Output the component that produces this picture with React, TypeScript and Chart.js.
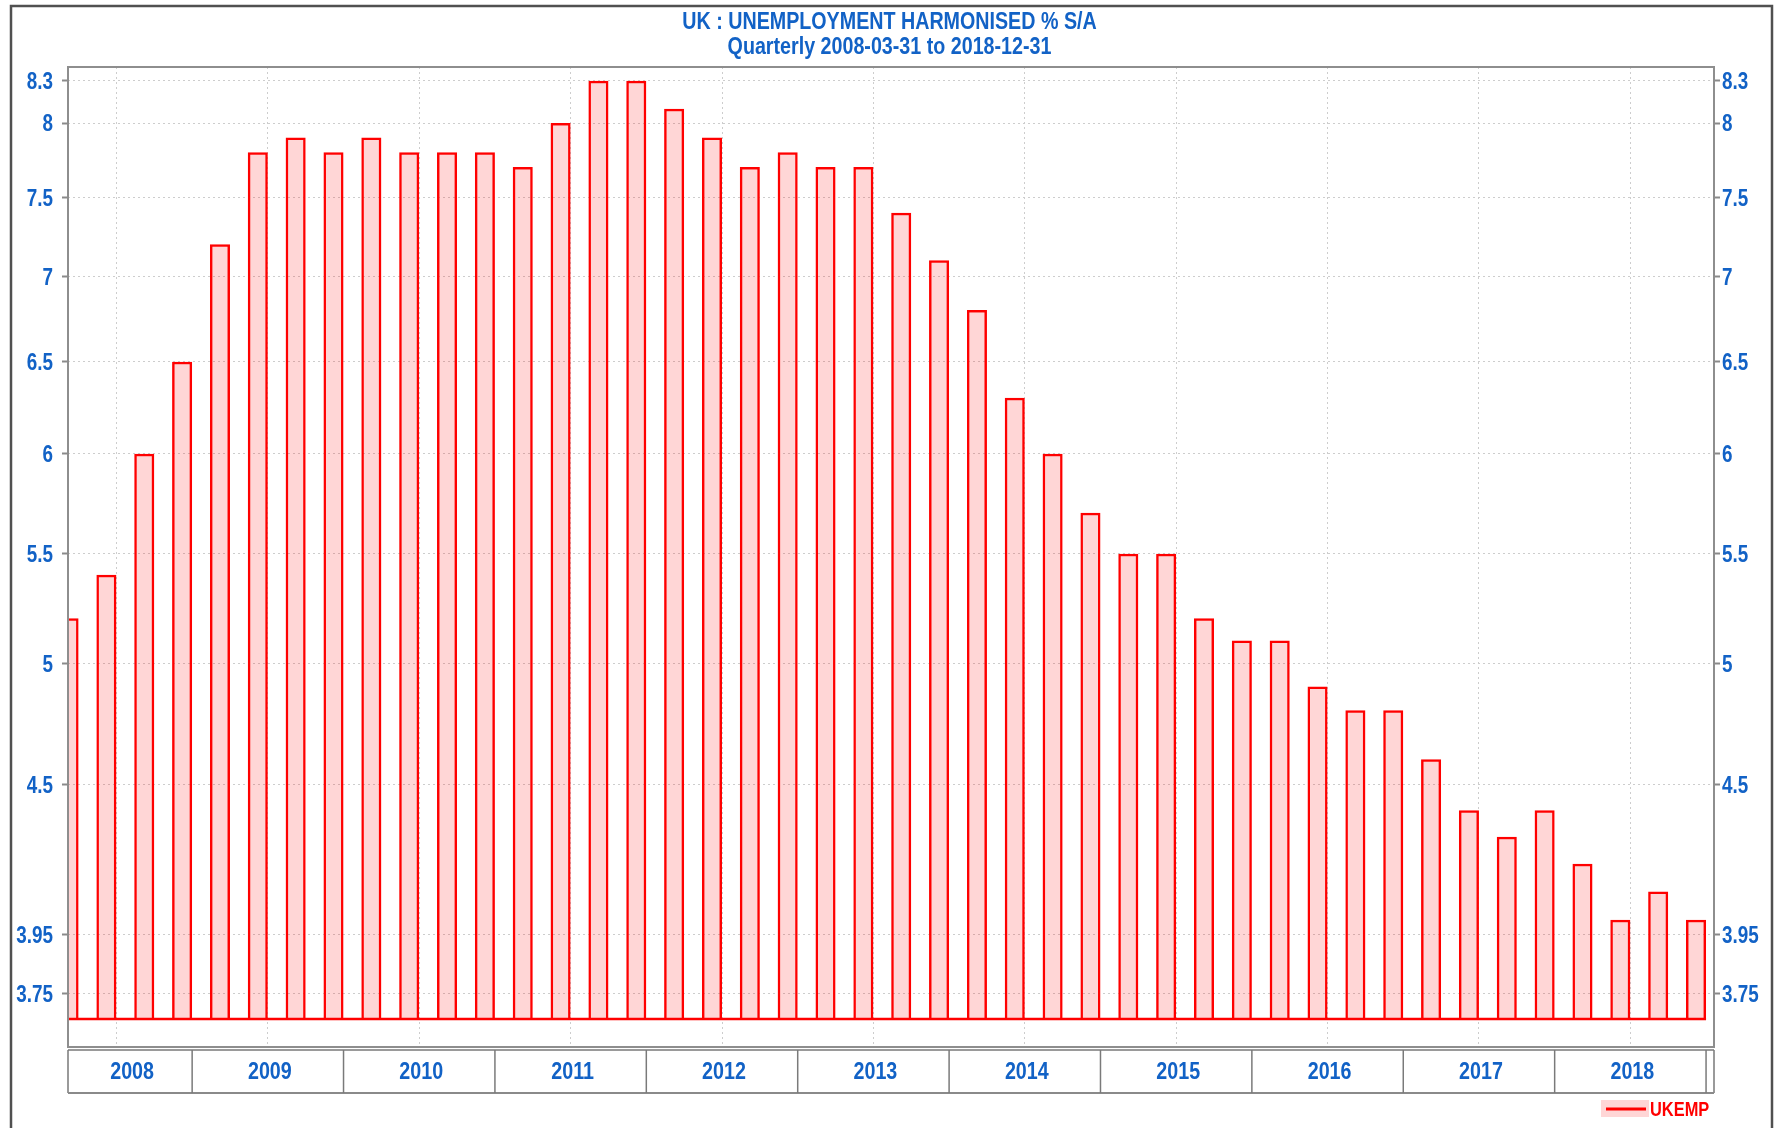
import React, { useEffect, useRef } from "react";
import { Chart, registerables } from "chart.js";

Chart.register(...registerables);

// ---------- data ----------
const QUARTERS = [
  "2008Q1", "2008Q2", "2008Q3", "2008Q4",
  "2009Q1", "2009Q2", "2009Q3", "2009Q4",
  "2010Q1", "2010Q2", "2010Q3", "2010Q4",
  "2011Q1", "2011Q2", "2011Q3", "2011Q4",
  "2012Q1", "2012Q2", "2012Q3", "2012Q4",
  "2013Q1", "2013Q2", "2013Q3", "2013Q4",
  "2014Q1", "2014Q2", "2014Q3", "2014Q4",
  "2015Q1", "2015Q2", "2015Q3", "2015Q4",
  "2016Q1", "2016Q2", "2016Q3", "2016Q4",
  "2017Q1", "2017Q2", "2017Q3", "2017Q4",
  "2018Q1", "2018Q2", "2018Q3", "2018Q4",
];

const UKEMP = [
  5.2, 5.4, 6.0, 6.5,
  7.2, 7.8, 7.9, 7.8,
  7.9, 7.8, 7.8, 7.8,
  7.7, 8.0, 8.3, 8.3,
  8.1, 7.9, 7.7, 7.8,
  7.7, 7.7, 7.4, 7.1,
  6.8, 6.3, 6.0, 5.7,
  5.5, 5.5, 5.2, 5.1,
  5.1, 4.9, 4.8, 4.8,
  4.6, 4.4, 4.3, 4.4,
  4.2, 4.0, 4.1, 4.0,
];

const YEARS = ["2008", "2009", "2010", "2011", "2012", "2013", "2014", "2015", "2016", "2017", "2018"];

const Y_TICKS = [3.75, 3.95, 4.5, 5, 5.5, 6, 6.5, 7, 7.5, 8, 8.3];

const TITLE_LINES = ["UK : UNEMPLOYMENT HARMONISED % S/A", "Quarterly 2008-03-31 to 2018-12-31"];
const SERIES_NAME = "UKEMP";

// ---------- style / layout constants ----------
const W = 1781;
const H = 1128;
const BLUE = "#1262C6";
const RED = "#FF0000";
const PINK_FILL = "rgba(255,0,0,0.16)";
const GRID = "#cdcdcd";
const FRAME = "#8e8e8e";
const FONT = '"Liberation Sans", Arial, sans-serif';
const NARROW = 0.82; // horizontal condensing to mimic a narrow face
const Y_MIN = 3.581;
const Y_MAX = 8.4;
const BAR_BASE = 3.669;
const X_MIN = 0.72;
const X_MAX = 44.21;
const BAR_FRACTION = 0.53;
const Q_PER_YEAR = 4;

function narrowText(
  ctx: CanvasRenderingContext2D,
  text: string,
  x: number,
  y: number,
  font: string,
  color: string,
  align: CanvasTextAlign
) {
  ctx.save();
  ctx.font = font;
  ctx.fillStyle = color;
  ctx.textAlign = align;
  ctx.textBaseline = "middle";
  ctx.translate(x, y);
  ctx.scale(NARROW, 1);
  ctx.fillText(text, 0, 0);
  ctx.restore();
}

function condenseLabels(scale: any) {
  if (!scale || scale.__condensed) return;
  scale.__condensed = true;
  const orig = scale.drawLabels;
  scale.drawLabels = function (area: any) {
    const items = this.getLabelItems(area);
    if (!items || !items.length) return orig.call(this, area);
    const ax = items[0].options.translation[0];
    const ctx = this.ctx;
    ctx.save();
    ctx.translate(ax, 0);
    ctx.scale(NARROW, 1);
    ctx.translate(-ax, 0);
    orig.call(this, area);
    ctx.restore();
  };
}

const framePlugin = {
  id: "framePlugin",
  beforeDraw(chart: any) {
    condenseLabels(chart.scales.y);
    condenseLabels(chart.scales.y2);
    const ctx = chart.ctx;
    ctx.save();
    ctx.fillStyle = "#ffffff";
    ctx.fillRect(0, 0, W, H);
    // outer border
    ctx.strokeStyle = "#505050";
    ctx.lineWidth = 2.5;
    ctx.beginPath();
    ctx.moveTo(11, H + 5);
    ctx.lineTo(11, 6);
    ctx.lineTo(1772, 6);
    ctx.lineTo(1772, H + 5);
    ctx.stroke();
    ctx.restore();
    // title
    const cx = W / 2 - 1;
    narrowText(ctx, TITLE_LINES[0], cx, 22, `bold 24px ${FONT}`, BLUE, "center");
    narrowText(ctx, TITLE_LINES[1], cx, 47, `bold 24px ${FONT}`, BLUE, "center");
  },
  afterDatasetsDraw(chart: any) {
    const ctx = chart.ctx;
    const xs = chart.scales.x;
    const ys = chart.scales.y;
    const { left, right, top, bottom } = chart.chartArea;
    ctx.save();

    // red baseline across bars
    const baseY = ys.getPixelForValue(BAR_BASE);
    ctx.strokeStyle = RED;
    ctx.lineWidth = 2.5;
    ctx.beginPath();
    ctx.moveTo(left, baseY);
    ctx.lineTo(xs.getPixelForValue(UKEMP.length), baseY);
    ctx.stroke();

    // plot frame
    ctx.strokeStyle = FRAME;
    ctx.lineWidth = 2;
    ctx.strokeRect(left, top, right - left, bottom - top);

    // year box
    const boxTop = bottom + 3;
    const boxBottom = bottom + 46;
    ctx.strokeStyle = "#7a7a7a";
    ctx.lineWidth = 1.5;
    ctx.beginPath();
    ctx.moveTo(left, boxTop);
    ctx.lineTo(right, boxTop);
    ctx.moveTo(left, boxTop);
    ctx.lineTo(left, boxBottom);
    ctx.moveTo(right, boxTop);
    ctx.lineTo(right, boxBottom);
    ctx.stroke();
    ctx.lineWidth = 2.2;
    ctx.strokeStyle = "#8a8a8a";
    ctx.beginPath();
    ctx.moveTo(left, boxBottom);
    ctx.lineTo(right, boxBottom);
    ctx.stroke();

    YEARS.forEach((yr, i) => {
      const x0 = Math.max(xs.getPixelForValue(i * Q_PER_YEAR), left);
      const x1 = xs.getPixelForValue((i + 1) * Q_PER_YEAR);
      ctx.strokeStyle = "#7a7a7a";
      ctx.lineWidth = 1.5;
      ctx.beginPath();
      ctx.moveTo(x1, boxTop);
      ctx.lineTo(x1, boxBottom);
      ctx.stroke();
      narrowText(ctx, yr, (x0 + x1) / 2 + 2, (boxTop + boxBottom) / 2 + 1, `bold 24px ${FONT}`, BLUE, "center");
    });

    // legend
    ctx.fillStyle = "#FFD6D6";
    ctx.fillRect(1601, 1100, 48, 17);
    ctx.strokeStyle = RED;
    ctx.lineWidth = 3;
    ctx.beginPath();
    ctx.moveTo(1606, 1109);
    ctx.lineTo(1646, 1109);
    ctx.stroke();
    narrowText(ctx, SERIES_NAME, 1650, 1110, `bold 20px ${FONT}`, RED, "left");

    ctx.restore();
  },
};

const yAxisCommon = (position: "left" | "right", width: number, padding: number, onChart: boolean) => ({
  type: "logarithmic" as const,
  position,
  min: Y_MIN,
  max: Y_MAX,
  afterBuildTicks: (s: any) => {
    s.ticks = Y_TICKS.map((v) => ({ value: v }));
  },
  afterFit: (s: any) => {
    s.width = width;
  },
  ticks: {
    callback: (v: any) => String(v),
    color: BLUE,
    font: { family: FONT, size: 23, weight: "bold" as const },
    padding,
    labelOffset: 2,
  },
  grid: {
    display: true,
    drawOnChartArea: onChart,
    color: GRID,
    lineWidth: 1,
    drawTicks: true,
    tickLength: 6,
    tickColor: "#8a8a8a",
    tickWidth: 2,
    tickBorderDash: [],
  },
  border: { display: false, dash: [2, 3] },
});

export default function App() {
  const canvasRef = useRef<HTMLCanvasElement | null>(null);

  useEffect(() => {
    if (!canvasRef.current) return;
    const points = UKEMP.map((v, i) => ({ x: i + 1 - BAR_FRACTION / 2, y: v }));
    const chart = new Chart(canvasRef.current, {
      type: "bar",
      data: {
        labels: QUARTERS,
        datasets: [
          {
            label: SERIES_NAME,
            data: points as any,
            base: BAR_BASE,
            backgroundColor: PINK_FILL,
            borderColor: RED,
            borderWidth: 2.5,
            borderSkipped: "bottom",
            barPercentage: BAR_FRACTION,
            categoryPercentage: 1.0,
            yAxisID: "y",
          } as any,
        ],
      },
      options: {
        responsive: false,
        animation: false,
        parsing: { xAxisKey: "x", yAxisKey: "y" } as any,
        layout: { padding: { top: 67, left: 0, right: 0, bottom: 0 } },
        plugins: {
          legend: { display: false },
          tooltip: { enabled: false },
          title: { display: false },
        },
        scales: {
          x: {
            type: "linear",
            min: X_MIN,
            max: X_MAX,
            offset: false,
            afterBuildTicks: (s: any) => {
              s.ticks = YEARS.slice(1).map((_, i) => ({ value: (i + 1) * Q_PER_YEAR }));
            },
            afterFit: (s: any) => {
              s.height = 81;
            },
            ticks: { display: false },
            grid: { display: true, color: GRID, lineWidth: 1, drawTicks: false },
            border: { display: false, dash: [2, 3] },
          },
          y: yAxisCommon("left", 68, 9, true) as any,
          y2: yAxisCommon("right", 67, 2, false) as any,
        },
      },
      plugins: [framePlugin],
    });
    return () => chart.destroy();
  }, []);

  return (
    <div style={{ position: "absolute", left: 0, top: 0, width: W, height: H }}>
      <canvas ref={canvasRef} width={W} height={H} style={{ display: "block", width: W, height: H }} />
    </div>
  );
}
